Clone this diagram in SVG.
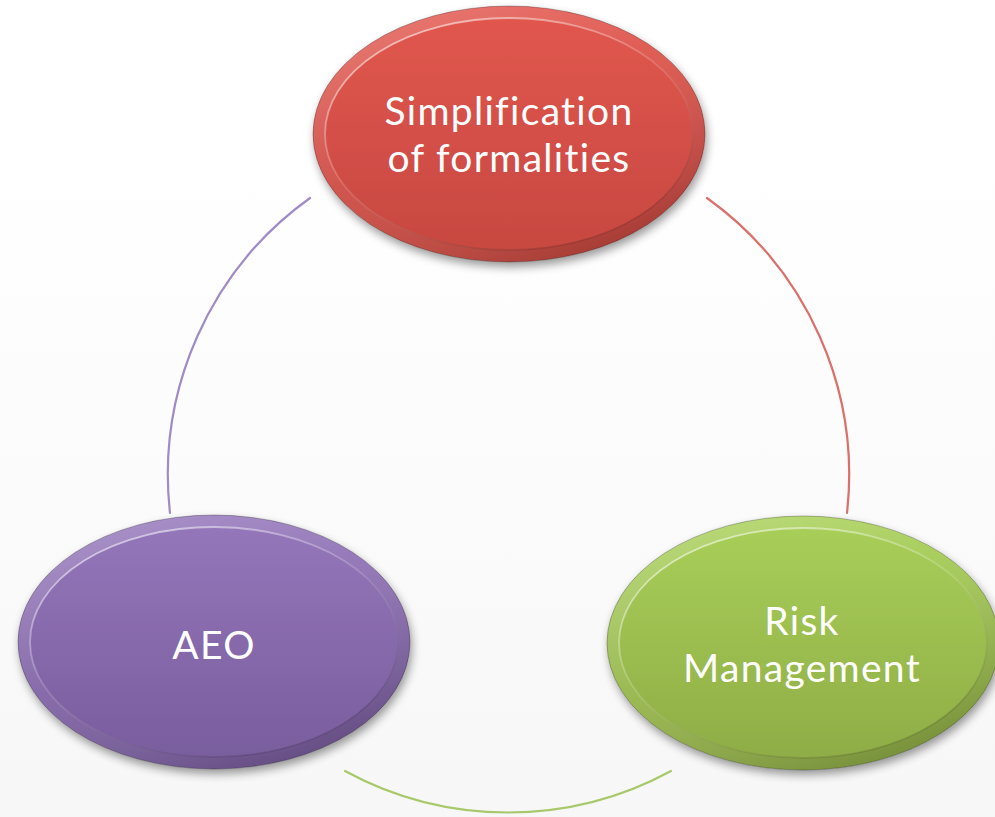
<svg xmlns="http://www.w3.org/2000/svg" width="995" height="817" viewBox="0 0 995 817">
  <defs>
    <linearGradient id="bg" x1="0" y1="0" x2="0" y2="1">
      <stop offset="0" stop-color="#ffffff"/>
      <stop offset="0.2" stop-color="#ffffff"/>
      <stop offset="1" stop-color="#f7f7f7"/>
    </linearGradient>
    <linearGradient id="gRed" x1="0" y1="0" x2="0" y2="1">
      <stop offset="0" stop-color="#e2574f"/>
      <stop offset="1" stop-color="#c64840"/>
    </linearGradient>
    <linearGradient id="gPurple" x1="0" y1="0" x2="0" y2="1">
      <stop offset="0" stop-color="#9577bb"/>
      <stop offset="1" stop-color="#785c9c"/>
    </linearGradient>
    <linearGradient id="gGreen" x1="0" y1="0" x2="0" y2="1">
      <stop offset="0" stop-color="#a9d05a"/>
      <stop offset="1" stop-color="#8eab45"/>
    </linearGradient>
    <linearGradient id="band" x1="0" y1="0" x2="0.7" y2="1">
      <stop offset="0" stop-color="#ffffff" stop-opacity="0.22"/>
      <stop offset="0.5" stop-color="#ffffff" stop-opacity="0.05"/>
      <stop offset="1" stop-color="#000000" stop-opacity="0.16"/>
    </linearGradient>
    <linearGradient id="innerEdge" x1="0" y1="0" x2="0.6" y2="1">
      <stop offset="0" stop-color="#ffffff" stop-opacity="0.7"/>
      <stop offset="0.55" stop-color="#ffffff" stop-opacity="0.15"/>
      <stop offset="1" stop-color="#000000" stop-opacity="0.12"/>
    </linearGradient>
    <filter id="shadow" x="-20%" y="-20%" width="140%" height="150%">
      <feGaussianBlur in="SourceAlpha" stdDeviation="5"/>
      <feOffset dx="2" dy="5" result="b"/>
      <feComponentTransfer><feFuncA type="linear" slope="0.4"/></feComponentTransfer>
      <feMerge><feMergeNode/><feMergeNode in="SourceGraphic"/></feMerge>
    </filter>
  </defs>
  <style>
    .lbl { font-family: Lato, "Open Sans", "Liberation Sans", sans-serif; font-size: 39px; letter-spacing: 1.3px; fill: #ffffff; text-anchor: middle; }
    .arc { fill: none; stroke-width: 2.2; stroke-linecap: round; }
    .band { fill: none; stroke: url(#band); stroke-width: 12; }
    .edge { fill: none; stroke: url(#innerEdge); stroke-width: 1.8; }
    .rim { fill: none; stroke: #000000; stroke-opacity: 0.25; stroke-width: 1; }
  </style>
  <rect x="0" y="0" width="995" height="817" fill="url(#bg)"/>

  <g id="connectors">
    <path class="arc" stroke="#a08bc6" d="M 310 198 A 341 341 0 0 0 170 513"/>
    <path class="arc" stroke="#db6f69" d="M 707 198 A 341 341 0 0 1 847 513"/>
    <path class="arc" stroke="#a7c96b" d="M 345 771 A 341 341 0 0 0 671 771"/>
  </g>

  <g id="node-simplification">
    <g filter="url(#shadow)">
      <ellipse cx="509" cy="134" rx="196" ry="128" fill="url(#gRed)"/>
    </g>
    <ellipse class="band" cx="509" cy="134" rx="190" ry="122"/>
    <ellipse class="edge" cx="509" cy="134" rx="184" ry="116"/>
    <ellipse class="rim" cx="509" cy="134" rx="196" ry="128"/>
    <text class="lbl" x="509" y="125">Simplification</text>
    <text class="lbl" x="509" y="172">of formalities</text>
  </g>

  <g id="node-aeo">
    <g filter="url(#shadow)">
      <ellipse cx="214" cy="642" rx="196" ry="127" fill="url(#gPurple)"/>
    </g>
    <ellipse class="band" cx="214" cy="642" rx="190" ry="121"/>
    <ellipse class="edge" cx="214" cy="642" rx="184" ry="115"/>
    <ellipse class="rim" cx="214" cy="642" rx="196" ry="127"/>
    <text class="lbl" x="214" y="659">AEO</text>
  </g>

  <g id="node-risk">
    <g filter="url(#shadow)">
      <ellipse cx="803" cy="643" rx="196" ry="127" fill="url(#gGreen)"/>
    </g>
    <ellipse class="band" cx="803" cy="643" rx="190" ry="121"/>
    <ellipse class="edge" cx="803" cy="643" rx="184" ry="115"/>
    <ellipse class="rim" cx="803" cy="643" rx="196" ry="127"/>
    <text class="lbl" x="802" y="635">Risk</text>
    <text class="lbl" x="802" y="682">Management</text>
  </g>
</svg>
